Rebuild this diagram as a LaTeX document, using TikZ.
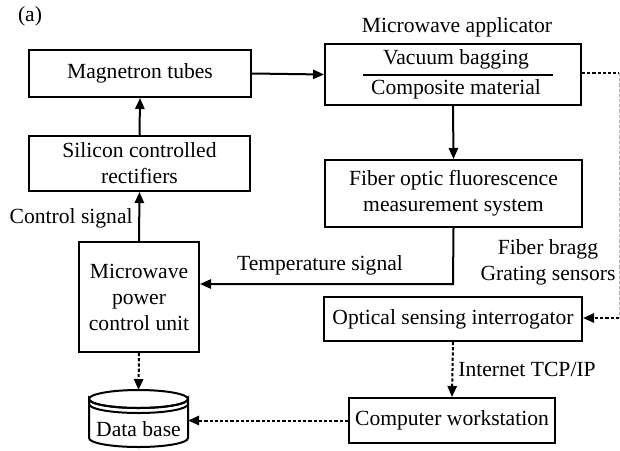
\documentclass[tikz,border=0pt]{standalone}
\usepackage{fontspec}
\setmainfont{Liberation Serif}
\usetikzlibrary{arrows.meta}
\begin{document}
\begin{tikzpicture}[x=0.5pt,y=-0.5pt,
  every node/.style={font=\fontsize{10.8}{13}\selectfont, inner sep=0pt},
  blk/.style={draw, line width=1pt, align=center},
  conn/.style={line width=1pt, -{Triangle[length=5.5pt,width=4.6pt]}},
  dconn/.style={line width=1pt, dash pattern=on 1.6pt off 1pt, -{Triangle[length=5.5pt,width=4.6pt]}},
  dline/.style={line width=1pt, dash pattern=on 1.6pt off 1pt},
  lbl/.style={align=center}]
\useasboundingbox (0,0) rectangle (620,450);

\node[lbl] (alab) at (30,16) {(a)};

\node[blk, minimum width=111pt, minimum height=23.5pt] (mag) at (140,73.5) {Magnetron tubes};
\node[blk, minimum width=110.5pt, minimum height=27.5pt] (scr) at (139.5,163.5) {Silicon controlled\\rectifiers};
\node[blk, minimum width=60pt, minimum height=55pt] (mpcu) at (139,297) {Microwave\\power\\control unit};

\node[blk, minimum width=128pt, minimum height=30.5pt] (app) at (453,74.5) {};
\node[lbl] (apptitle) at (457,27) {Microwave applicator};
\node[lbl] (vac) at (456,59) {Vacuum bagging};
\node[lbl] (comp) at (456,89) {Composite material};
\coordinate (sepL) at (363,75);
\coordinate (sepR) at (553,75);
\draw[line width=1pt] (sepL) -- (sepR);

\node[blk, minimum width=128.5pt, minimum height=33.5pt] (fo) at (453.5,193.5) {Fiber optic fluorescence\\measurement system};
\node[blk, minimum width=129pt, minimum height=22pt] (osi) at (453,319) {Optical sensing interrogator};
\node[blk, minimum width=103pt, minimum height=22.5pt] (cw) at (452,420.5) {Computer workstation};

% Data base cylinder
\draw[line width=1pt, fill=white] (89,399) arc[start angle=180, end angle=360, x radius=49.5, y radius=-9]
  -- (188,438) arc[start angle=0, end angle=-180, x radius=49.5, y radius=-9] -- cycle;
\draw[line width=1pt] (138.5,399) ellipse[x radius=49.5, y radius=-9];
\draw[line width=1pt] (89,404) arc[start angle=180, end angle=360, x radius=49.5, y radius=-9];
\node (dbtext) at (138.5,429) {Data base};
\coordinate (dbtop) at (138.5,390);
\coordinate (dbright) at (188,420.5);

% labels
\node[anchor=east] (ctl) at (133,218) {Control signal};
\node (temp) at (320,265) {Temperature signal};
\node[lbl] (fbg) at (548,262) {Fiber bragg\\Grating sensors};
\node (inet) at (527,369) {Internet TCP/IP};

% connectors
\draw[conn] (scr.north) -- (mag.south);
\draw[conn] (mpcu.north) -- (scr.south);
\draw[conn] (mag.east) -- (app.west);
\draw[conn] (app.south) -- (fo.south |- fo.north);
\coordinate (tcorner) at (453,284);
\draw[conn] (fo.south) -- (tcorner) -- (mpcu.east |- tcorner);
\draw[dconn] (mpcu.south) -- (dbtop);
\coordinate (rA) at (619,73);
\coordinate (rB) at (619,318);
\draw[dline] (app.east |- rA) -- (rA);
\draw[line width=0.4pt, gray!60, dash pattern=on 1.6pt off 1pt] (rA) -- (rB);
\draw[dconn] (rB) -- (osi.east |- rB);
\draw[dconn] (osi.south) -- (cw.north);
\draw[dconn] (cw.west) -- (dbright);
\end{tikzpicture}
\end{document}
